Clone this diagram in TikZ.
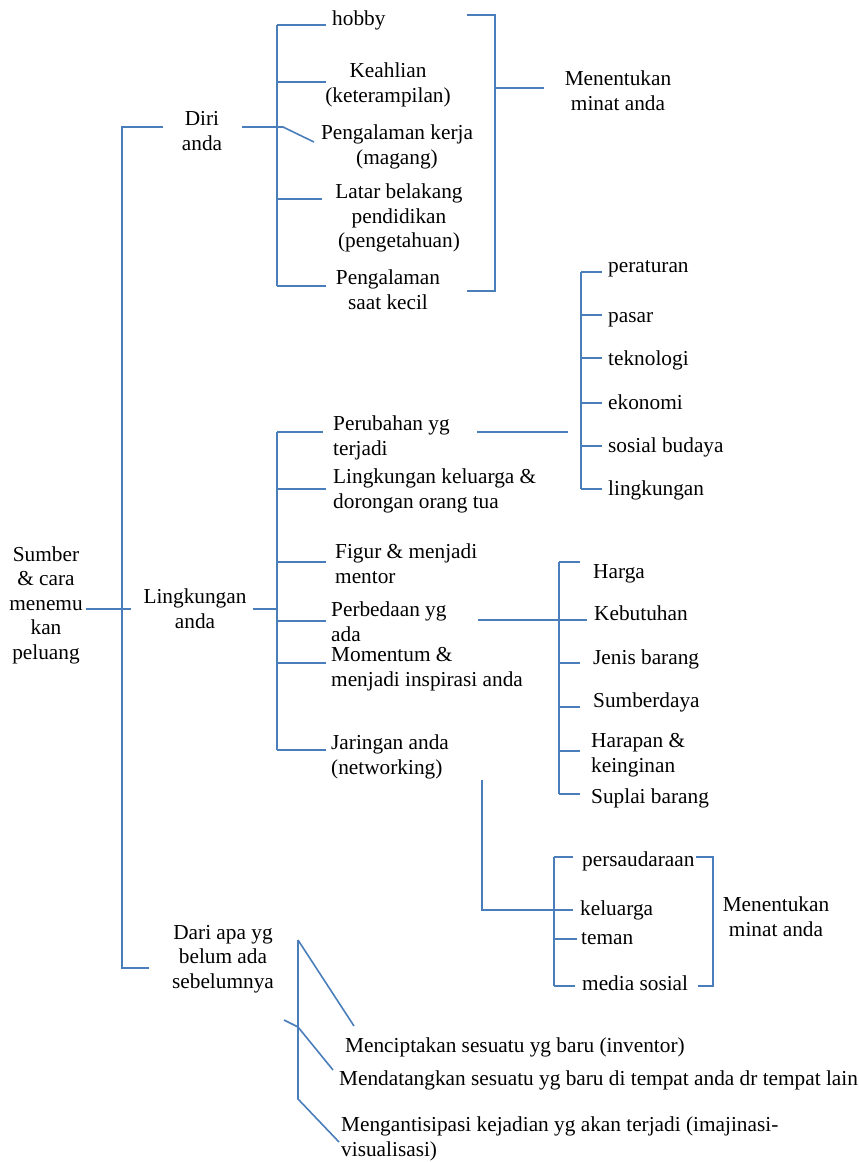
\documentclass[tikz,border=0pt]{standalone}
\usepackage{fontspec}
\setmainfont{Liberation Serif}
\usetikzlibrary{positioning,calc}
\definecolor{brblue}{HTML}{4A7EBB}
\tikzset{
  link/.style ={draw=brblue, line width=1.6pt},
  lbl/.style  ={inner sep=0pt, yshift=-2.5pt, font=\fontsize{21.3}{24.5}\selectfont,
                execute at begin node=\strut, execute at end node=\strut},
  clbl/.style ={lbl, align=center},
  llbl/.style ={lbl, align=left, anchor=west},
}

\begin{document}
\begin{tikzpicture}[x=1pt,y=-1pt]
  \useasboundingbox (0,0) rectangle (859,1162);
  % main branch
  \node[clbl] (sumber) at (46,604) {Sumber\\\& cara\\menemu\\kan\\peluang};
  \node[clbl] (diri) at (202,132) {Diri\\anda};
  \node[clbl] (lingk) at (195,610) {Lingkungan\\anda};
  \node[clbl] (dari) at (223,958) {Dari apa yg\\belum ada\\sebelumnya};
  \coordinate (mTop) at (122,127);
  \coordinate (mBot) at (122,968);
  \coordinate (sOut) at (86,609);
  \coordinate (sEnd) at (131,609);
  \coordinate (diriIn) at (163,127);
  \coordinate (dariIn) at (149,968);
  \draw[link] (diriIn) -- (mTop) -- (mBot) -- (dariIn);
  \draw[link] (sOut) -- (sEnd);

  % diri anda
  \node[llbl] (hobby) at (332,18) {hobby};
  \node[clbl] (keahlian) at (388,84) {Keahlian\\(keterampilan)};
  \node[clbl] (magang) at (397,146) {Pengalaman kerja\\(magang)};
  \node[clbl] (latar) at (399,217) {Latar belakang\\pendidikan\\(pengetahuan)};
  \node[clbl] (kecil) at (388,291) {Pengalaman\\saat kecil};
  \node[clbl] (minatA) at (618,92) {Menentukan\\minat anda};
  \coordinate (dOut) at (242,127);
  \coordinate (dKnee) at (283,127);
  \coordinate (dMag) at (314,142);
  \draw[link] (dOut) -- (dKnee) -- (dMag);
  \coordinate (dsTop) at (277,25);
  \coordinate (dsBot) at (277,286);
  \draw[link] (dsTop) -- (dsBot);
  \foreach \n/\x/\y in {tHo/326/25,tKe/326/82,tLa/322/199,tKc/326/286}{
    \coordinate (\n) at (\x,\y);
    \draw[link] (\n) -- (\n -| dsTop);}
  \coordinate (bTop) at (467,15);
  \coordinate (bCor) at (495,15);
  \coordinate (bBot) at (467,291);
  \coordinate (bTick) at (544,88);
  \draw[link] (bTop) -- (bCor) |- (bBot);
  \draw[link] (bTick) -- (bTick -| bCor);

  % lingkungan anda
  \node[llbl] (perubahan) at (333,437) {Perubahan yg\\terjadi};
  \node[llbl] (keluarga) at (333,490) {Lingkungan keluarga \&\\dorongan orang tua};
  \node[llbl] (figur) at (335,565) {Figur \& menjadi\\mentor};
  \node[llbl] (perbedaan) at (331,623) {Perbedaan yg\\ada};
  \node[llbl] (momentum) at (331,668) {Momentum \&\\menjadi inspirasi anda};
  \node[llbl] (jaringan) at (331,756) {Jaringan anda\\(networking)};
  \coordinate (lOut) at (253,609);
  \coordinate (lsTop) at (277,432);
  \coordinate (lsBot) at (277,750);
  \draw[link] (lOut) -- (lOut -| lsTop);
  \draw[link] (lsTop) -- (lsBot);
  \foreach \n/\x/\y in {tPu/323/432,tLk/326/489,tFi/326/562,tPe/326/621,tMo/326/663,tJa/326/750}{
    \coordinate (\n) at (\x,\y);
    \draw[link] (\n) -- (\n -| lsTop);}

  % perubahan yg terjadi
  \foreach \n/\t/\y in {peraturan/peraturan/265,pasar/pasar/315,teknologi/teknologi/358,
                        ekonomi/ekonomi/402,sosbud/sosial budaya/445,lingkungan/lingkungan/488}
    \node[llbl] (\n) at (608,\y) {\t};
  \coordinate (puOut) at (477,432);
  \coordinate (puEnd) at (568,432);
  \draw[link] (puOut) -- (puEnd);
  \coordinate (psTop) at (581,272);
  \coordinate (psBot) at (581,489);
  \draw[link] (psTop) -- (psBot);
  \foreach \n/\y in {tPr/272,tPs/315,tTk/358,tEk/403,tSb/446,tLg/489}{
    \coordinate (\n) at (602,\y);
    \draw[link] (\n) -- (\n -| psTop);}

  % perbedaan yg ada
  \node[llbl] (harga) at (593,571) {Harga};
  \node[llbl] (kebutuhan) at (594,613) {Kebutuhan};
  \node[llbl] (jenis) at (593,657) {Jenis barang};
  \node[llbl] (sumberdaya) at (593,700) {Sumberdaya};
  \node[llbl] (harapan) at (591,754) {Harapan \&\\keinginan};
  \node[llbl] (suplai) at (591,796) {Suplai barang};
  \coordinate (peOut) at (478,620);
  \coordinate (peEnd) at (587,620);
  \draw[link] (peOut) -- (peEnd);
  \coordinate (hsTop) at (559,562);
  \coordinate (hsBot) at (559,794);
  \draw[link] (hsTop) -- (hsBot);
  \foreach \n/\y in {tHa/562,tJe/663,tSd/707,tHr/751,tSu/794}{
    \coordinate (\n) at (580,\y);
    \draw[link] (\n) -- (\n -| hsTop);}

  % jaringan anda
  \node[llbl] (saudara) at (582,859) {persaudaraan};
  \node[llbl] (kelB) at (580,908) {keluarga};
  \node[llbl] (teman) at (581,937) {teman};
  \node[llbl] (medsos) at (582,983) {media sosial};
  \node[clbl] (minatB) at (776,918) {Menentukan\\minat anda};
  \coordinate (jaOut) at (482,780);
  \coordinate (jaEnd) at (573,910);
  \draw[link] (jaOut) |- (jaEnd);
  \coordinate (jsTop) at (554,857);
  \coordinate (jsBot) at (554,986);
  \draw[link] (jsTop) -- (jsBot);
  \foreach \n/\x/\y in {tPd/573/857,tTm/577/939,tMs/575/986}{
    \coordinate (\n) at (\x,\y);
    \draw[link] (\n) -- (\n -| jsTop);}
  \coordinate (kTop) at (696,857);
  \coordinate (kCor) at (713,857);
  \coordinate (kBot) at (698,986);
  \draw[link] (kTop) -- (kCor) |- (kBot);

  % dari apa yg belum ada
  \node[llbl] (cipta) at (345,1045) {Menciptakan sesuatu yg baru (inventor)};
  \node[llbl] (datang) at (339,1078) {Mendatangkan sesuatu yg baru di tempat anda dr tempat lain};
  \node[llbl] (antisipasi) at (341,1138) {Mengantisipasi kejadian yg akan terjadi (imajinasi-\\visualisasi)};
  \coordinate (raTop) at (298,940);
  \coordinate (raBot) at (298,1099);
  \coordinate (raMid) at (298,1027);
  \coordinate (rCipta) at (354,1026);
  \coordinate (rStub) at (284,1020);
  \coordinate (rDatang) at (333,1070);
  \coordinate (rAnti) at (339,1142);
  \draw[link] (raTop) -- (raBot) -- (rAnti);
  \draw[link] (raTop) -- (rCipta);
  \draw[link] (rStub) -- (raMid) -- (rDatang);
\end{tikzpicture}
\end{document}
